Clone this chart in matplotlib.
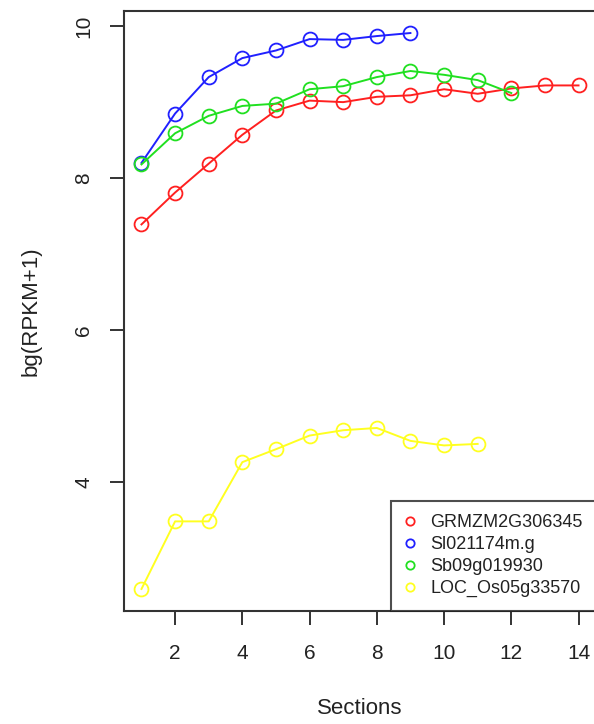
import matplotlib
matplotlib.use("Agg")
import matplotlib.pyplot as plt

plt.rcParams['font.family'] = ['Liberation Sans', 'DejaVu Sans']

# Expression per section for each gene
sections_red = list(range(1, 15))
red_vals = [7.39, 7.81, 8.19, 8.57, 8.89, 9.02, 9.00, 9.07, 9.09, 9.17, 9.11, 9.18, 9.22, 9.22]

sections_blue = list(range(1, 10))
blue_vals = [8.20, 8.85, 9.33, 9.58, 9.68, 9.83, 9.82, 9.87, 9.91]

sections_green = list(range(1, 13))
green_vals = [8.18, 8.59, 8.82, 8.95, 8.98, 9.17, 9.21, 9.33, 9.41, 9.36, 9.29, 9.12]

sections_yellow = list(range(1, 12))
yellow_vals = [2.59, 3.48, 3.48, 4.26, 4.43, 4.61, 4.68, 4.71, 4.54, 4.48, 4.50]

gene_names = ["GRMZM2G306345", "Sl021174m.g", "Sb09g019930", "LOC_Os05g33570"]
colors = ["#ff2020", "#2020ff", "#20e020", "#ffff20"]

x_ticks = [2, 4, 6, 8, 10, 12, 14]
y_ticks = [4, 6, 8, 10]

fig = plt.figure(figsize=(5.94, 7.24), dpi=100)
ax = fig.add_axes([124 / 594, 1 - 611 / 724, 472 / 594, 600 / 724])

series = [
    (sections_red, red_vals),
    (sections_blue, blue_vals),
    (sections_green, green_vals),
    (sections_yellow, yellow_vals),
]
for (xs, ys), c in zip(series, colors):
    ax.plot(xs, ys, color=c, lw=1.4, marker='o', ms=10, mfc='none',
            mec=c, mew=1.3)

ax.set_xlim(0.48, 14.52)
ax.set_ylim(2.30, 10.20)
ax.set_xticks(x_ticks)
ax.set_yticks(y_ticks)
ax.tick_params(axis='both', direction='out', length=10, width=1.4,
               color='#333333', labelsize=15, labelcolor='#222222')
ax.tick_params(axis='x', pad=14)
ax.tick_params(axis='y', pad=12)
for lab in ax.get_yticklabels():
    lab.set_rotation(90)
    lab.set_va('center')
for s in ax.spines.values():
    s.set_color('#333333')
    s.set_linewidth(1.5)

ax.set_xlabel("Sections", fontsize=16, color='#222222', labelpad=25)
ax.set_ylabel("bg(RPKM+1)", fontsize=16, color='#222222', labelpad=24)

handles = [plt.Line2D([], [], ls='none', marker='o', ms=6, mfc='none',
                      mec=c, mew=1.3) for c in colors]
leg = ax.legend(handles, gene_names, loc='lower right', fontsize=13,
                frameon=True, fancybox=False, borderaxespad=0,
                handlelength=0.6, handletextpad=0.8, labelspacing=0.28,
                borderpad=0.75, labelcolor='#222222')
leg.get_frame().set_edgecolor('#222222')
leg.get_frame().set_linewidth(1.5)

fig.savefig("out.png", dpi=100)
